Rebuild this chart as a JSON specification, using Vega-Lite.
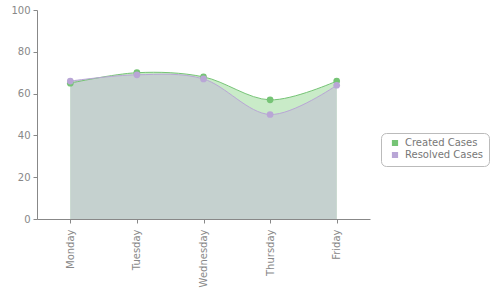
{
  "$schema": "https://vega.github.io/schema/vega-lite/v6.json",
  "width": 333,
  "height": 209,
  "autosize": "none",
  "padding": {"left": 37, "top": 10, "right": 130, "bottom": 81},
  "background": "white",
  "data": {
    "values": [
      {"day": "Monday", "series": "Created Cases", "value": 65},
      {"day": "Tuesday", "series": "Created Cases", "value": 70},
      {"day": "Wednesday", "series": "Created Cases", "value": 68},
      {"day": "Thursday", "series": "Created Cases", "value": 57},
      {"day": "Friday", "series": "Created Cases", "value": 66},
      {"day": "Monday", "series": "Resolved Cases", "value": 66},
      {"day": "Tuesday", "series": "Resolved Cases", "value": 69},
      {"day": "Wednesday", "series": "Resolved Cases", "value": 67},
      {"day": "Thursday", "series": "Resolved Cases", "value": 50},
      {"day": "Friday", "series": "Resolved Cases", "value": 64}
    ]
  },
  "encoding": {
    "x": {
      "field": "day", "type": "ordinal", "sort": null,
      "scale": {"type": "point", "padding": 0.5},
      "axis": {"title": null, "labelAngle": -90, "labelColor": "#888", "labelFont": "DejaVu Sans", "labelFontSize": 10, "domainColor": "#888", "tickColor": "#888", "tickSize": 4, "labelPadding": 6, "grid": false}
    },
    "y": {
      "field": "value", "type": "quantitative",
      "scale": {"domain": [0, 100]},
      "axis": {"title": null, "values": [0, 20, 40, 60, 80, 100], "labelColor": "#888", "labelFont": "DejaVu Sans", "labelFontSize": 10, "domainColor": "#888", "tickColor": "#888", "tickSize": 4, "grid": false, "labelPadding": 3}
    }
  },
  "layer": [
    {
      "mark": {"type": "area", "interpolate": "cardinal", "opacity": 1},
      "encoding": {
        "y": {"field": "value", "type": "quantitative", "stack": null},
        "fill": {"field": "series", "type": "nominal", "scale": {"range": ["#c9ebc8", "#c5d1cf"]}, "legend": null}
      }
    },
    {
      "mark": {"type": "line", "interpolate": "cardinal", "strokeWidth": 1},
      "encoding": {
        "color": {"field": "series", "type": "nominal"}
      }
    },
    {
      "mark": {"type": "point", "filled": true, "size": 45, "opacity": 1},
      "encoding": {
        "color": {"field": "series", "type": "nominal"}
      }
    }
  ],
  "resolve": {"scale": {"color": "shared"}},
  "config": {
    "view": {"stroke": null},
    "range": {"category": ["#76c476", "#b9a6d6"]},
    "legend": {
      "title": null, "orient": "none", "legendX": 344, "legendY": 123,
      "symbolType": "square", "symbolSize": 22,
      "labelColor": "#777", "labelFont": "DejaVu Sans", "labelFontSize": 10,
      "fillColor": "white", "strokeColor": "#bbb", "cornerRadius": 5,
      "padding": 5, "rowPadding": 0, "labelOffset": 5, "symbolOffset": 4
    }
  }
}
